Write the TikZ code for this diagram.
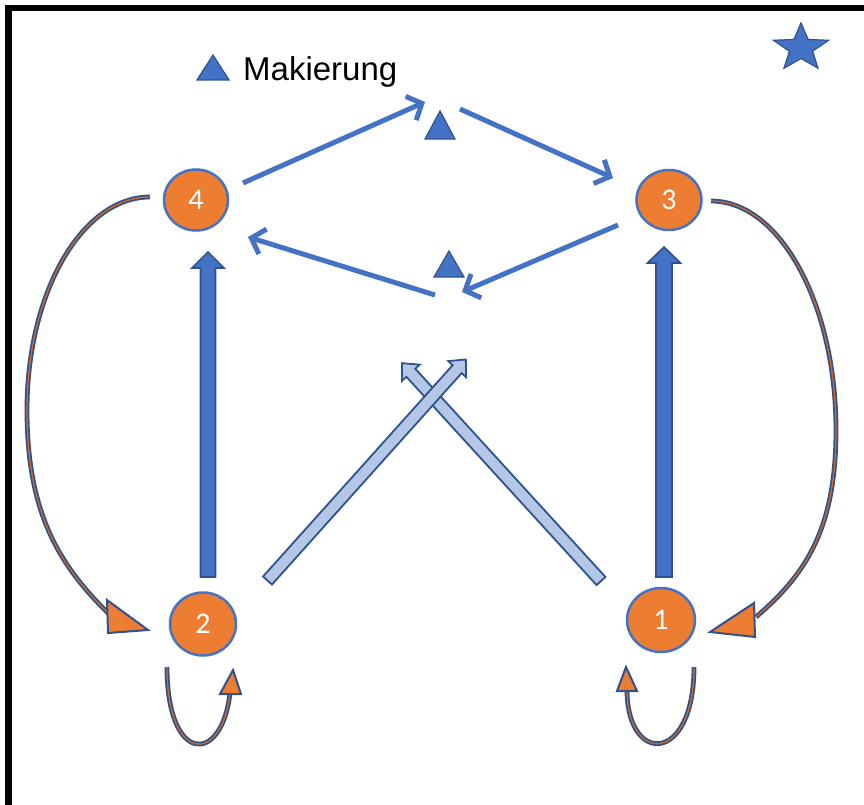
\documentclass[tikz,border=0pt]{standalone}
\usepackage{fontspec}
\setmainfont{Liberation Sans}
\newfontfamily\numfont{Carlito}
\usetikzlibrary{arrows.meta,calc,shapes.geometric}
\definecolor{mblue}{HTML}{4472C4}
\definecolor{dblue}{HTML}{2F528F}
\definecolor{lblue}{HTML}{B4C7E7}
\definecolor{morange}{HTML}{ED7D31}
\definecolor{corange}{HTML}{D2691E}
% #1 style, #2 start coordinate, #3 angle, #4 length, #5 shaft half width, #6 head half width, #7 head length
\newcommand\blkarrow[7]{%
  \draw[#1, shift={(#2)}, rotate=#3] (0,#5) -- ({#4-#7},#5) -- ({#4-#7},#6) -- (#4,0)
    -- ({#4-#7},-#6) -- ({#4-#7},-#5) -- (0,-#5) -- cycle;}
\begin{document}
\begin{tikzpicture}[x=1pt,y=-1pt,
  state/.style={ellipse, fill=morange, draw=mblue, line width=2.5pt, text=white,
    font=\numfont\fontsize{30}{30}\selectfont, inner sep=0pt},
  marker/.style={fill=mblue, draw=dblue, line width=1.2pt, line join=miter},
  thinarr/.style={draw=mblue, line width=5pt, -{Straight Barb[length=12pt,width=26pt]}},
  bigblk/.style={fill=mblue, draw=dblue, line width=1.6pt, line join=miter},
  diagblk/.style={fill=lblue, draw=dblue, line width=1.8pt, line join=miter},
  curv/.style={draw=corange, line width=1.3pt, preaction={draw=dblue, line width=4.8pt}},
  headtri/.style={fill=morange, draw=dblue, line width=2pt, line join=miter}]
\useasboundingbox (0,0) rectangle (864,805);
% frame
\fill[black] (5,5) rectangle (864,11);
\fill[black] (5,5) rectangle (12,805);

% states
\node[state, minimum width=64pt, minimum height=61pt] (n4) at (196,200) {4};
\node[state, minimum width=65pt, minimum height=60pt] (n3) at (669,200) {3};
\node[state, minimum width=66pt, minimum height=63pt] (n2) at (203,624) {2};
\node[state, minimum width=68pt, minimum height=64pt] (n1) at (661,620) {1};

% legend
\draw[marker] (197,80) -- (213,55) -- (229,80) -- cycle;
\node[anchor=base west, inner sep=0pt, font=\fontsize{33}{33}\selectfont] (leg) at (243,81) {Makierung};

% star
\begin{scope}[shift={(801,48)}, x=29pt, y=25pt]
  \draw[marker] (90:1) -- (126:0.42) -- (162:1) -- (198:0.42) -- (234:1) -- (270:0.42)
    -- (306:1) -- (342:0.42) -- (18:1) -- (54:0.42) -- cycle;
\end{scope}

% markers on the cycle
\draw[marker] (425,139) -- (440,111) -- (455,139) -- cycle;
\draw[marker] (434,277) -- (449,251) -- (464,277) -- cycle;

% thin arrows around markers
\coordinate (e1s) at (243,183); \coordinate (e1e) at (425,102);
\coordinate (e2s) at (460,109); \coordinate (e2e) at (613,178);
\coordinate (e3s) at (618,225); \coordinate (e3e) at (462,292);
\coordinate (e4s) at (435,295); \coordinate (e4e) at (248,237);
\draw[thinarr] (e1s) -- (e1e);
\draw[thinarr] (e2s) -- (e2e);
\draw[thinarr] (e3s) -- (e3e);
\draw[thinarr] (e4s) -- (e4e);

% vertical block arrows
\coordinate (v2) at (208,577);
\coordinate (v1) at (664,577);
\blkarrow{bigblk}{v2}{90}{325}{7.5}{16}{16}
\blkarrow{bigblk}{v1}{90}{330}{8}{16.5}{16}

% diagonal block arrows
\coordinate (d1) at (601,581);
\coordinate (d2) at (267.5,580.5);
\blkarrow{diagblk}{d1}{132.4}{295}{6}{12}{13}
\blkarrow{diagblk}{d2}{48.1}{297}{6}{12}{13}

% big curved arrows
\coordinate (c4s) at (150,197); \coordinate (c4m) at (27,410); \coordinate (c2e) at (108,613);
\draw[curv] (c4s) .. controls (82,197) and (27,292) .. (c4m)
  .. controls (27,510) and (57,563) .. (c2e);
\draw[headtri] (107,600) -- (148,630) -- (108,633) -- cycle;

\coordinate (c3s) at (711,201); \coordinate (c3m) at (836,430); \coordinate (c1e) at (756,617);
\draw[curv] (c3s) .. controls (780,201) and (836,304) .. (c3m)
  .. controls (836,530) and (805,575) .. (c1e);
\draw[headtri] (754,603) -- (710,632) -- (755,637) -- cycle;

% self loops
\coordinate (l2s) at (167,667); \coordinate (l2e) at (230,693);
\draw[curv] (l2s) .. controls (167,765) and (222,765) .. (l2e);
\draw[headtri] (220,694) -- (233,670) -- (241,694) -- cycle;

\coordinate (l1s) at (694,667); \coordinate (l1e) at (627,690);
\draw[curv] (l1s) .. controls (694,765) and (627,765) .. (l1e);
\draw[headtri] (617,691) -- (626,667) -- (637,691) -- cycle;
\end{tikzpicture}
\end{document}
